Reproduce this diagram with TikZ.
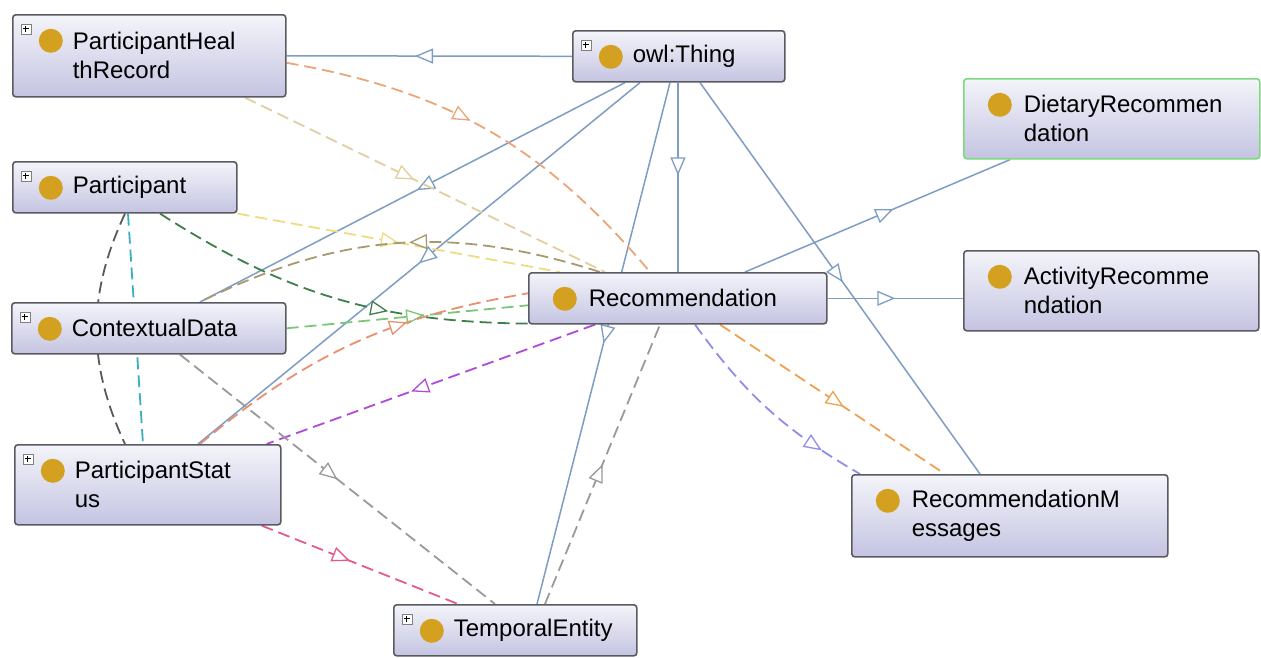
\documentclass[tikz,border=0pt]{standalone}
\usepackage{fontspec}
\setmainfont{Liberation Sans}
\usetikzlibrary{arrows.meta}
\usetikzlibrary{decorations.markings}
\definecolor{boxtop}{HTML}{F4F4FA}
\definecolor{boxbot}{HTML}{C4C4E2}
\definecolor{boxedge}{HTML}{5A5A62}
\definecolor{bulb}{HTML}{D4A020}
\definecolor{selgreen}{HTML}{7ED87E}
\definecolor{isablue}{HTML}{7D9DC2}
\definecolor{relorange}{HTML}{EBA578}
\definecolor{reltan}{HTML}{E2CFA0}
\definecolor{relyellow}{HTML}{F0DC80}
\definecolor{relolive}{HTML}{A89A70}
\definecolor{reldkgreen}{HTML}{3F7F4A}
\definecolor{relgreen}{HTML}{78C878}
\definecolor{relred}{HTML}{E89070}
\definecolor{relpurple}{HTML}{B048D8}
\definecolor{relgray}{HTML}{9A9A9A}
\definecolor{relpink}{HTML}{E45A90}
\definecolor{relamber}{HTML}{F0A050}
\definecolor{rellilac}{HTML}{8E8EEA}
\definecolor{reldark}{HTML}{5A5A5A}
\definecolor{relteal}{HTML}{3AAFBF}
\pgfdeclarelayer{edges}
\pgfsetlayers{edges,main}
\tikzset{
  classbox/.style={draw=boxedge, line width=1.6pt, rounded corners=3pt,
    top color=boxtop, bottom color=boxbot, anchor=north west,
    minimum height=51pt, inner sep=0pt, align=left,
    font=\fontsize{24}{29}\selectfont},
  leaf/.style={classbox, path picture={
    \fill[bulb] ([xshift=36pt,yshift=-26pt]path picture bounding box.north west) circle (12pt);}},
  folded/.style={classbox, path picture={
    \fill[bulb] ([xshift=38pt,yshift=-26pt]path picture bounding box.north west) circle (12pt);
    \draw[gray, fill=white, line width=0.6pt, sharp corners] ([xshift=8pt,yshift=-9pt]path picture bounding box.north west) rectangle ++(10pt,-10pt);
    \draw[black, line width=0.8pt, sharp corners] ([xshift=10pt,yshift=-14pt]path picture bounding box.north west) -- ++(6pt,0pt)
      ([xshift=13pt,yshift=-11pt]path picture bounding box.north west) -- ++(0pt,-6pt);}},
  isa/.style={isablue, line width=1.5pt, postaction={decorate},
    decoration={markings, mark=at position #1 with {\arrow[line width=1.3pt]{Triangle[length=18pt,width=15pt,fill=white]}}}},
  isa/.default=0.5,
  rel/.style 2 args={#1, line width=1.8pt, dash pattern=on 12pt off 6pt, postaction={decorate},
    decoration={markings, mark=at position #2 with {\arrow[line width=1.3pt]{Triangle[length=18pt,width=15pt,fill=white]}}}}
}

\begin{document}
\begin{tikzpicture}[x=1pt,y=-1pt]
    \useasboundingbox (0,0) rectangle (1261,657);
    % Classes
    \node[folded, minimum width=273pt, minimum height=82pt, text width=153pt] (phr) at (12,14) {ParticipantHeal\\thRecord};
    \node[folded, minimum width=224pt, text width=104pt] (part) at (12,161) {Participant};
    \node[folded, minimum width=274pt, text width=154pt] (ctx) at (11,302) {ContextualData};
    \node[folded, minimum width=266pt, minimum height=80pt, text width=146pt] (pstat) at (14,444) {ParticipantStat\\us};
    \node[folded, minimum width=243pt, text width=123pt] (temp) at (393,604) {TemporalEntity};
    \node[folded, minimum width=212pt, text width=92pt] (thing) at (572,30) {owl:Thing};
    \node[leaf, minimum width=298pt, text width=178pt] (rec) at (528,272) {Recommendation};
    \node[leaf, draw=selgreen, minimum width=296pt, minimum height=80pt, text width=176pt] (diet) at (963,78) {DietaryRecommen\\dation};
    \node[leaf, minimum width=295pt, minimum height=80pt, text width=175pt] (act) at (963,250) {ActivityRecomme\\ndation};
    \node[leaf, minimum width=316pt, minimum height=82pt, text width=196pt] (msg) at (851,474) {RecommendationM\\essages};
    \begin{pgfonlayer}{edges}
    \fill[white] (0,0) rectangle (1261,657);
    % Subclass links
    \draw[isa=0.55] (thing.west) to (phr.east);
    \draw[isa=0.49] ([xshift=53pt]thing.south west) to ([xshift=189pt]ctx.north west);
    \draw[isa=0.50] ([xshift=68pt]thing.south west) to ([xshift=184pt]pstat.north west);
    \draw[isa=0.49] ([xshift=106pt]thing.south west) to ([xshift=150pt]rec.north west);
    \draw[isa=0.5] ([xshift=98pt]thing.south west) to ([xshift=144pt]temp.north west);
    \draw[isa=0.51] ([xshift=128pt]thing.south west) to ([xshift=129pt]msg.north west);
    \draw[isa=0.5] (rec.east) to (rec.east -| act.west);
    \draw[isa=0.56] ([xshift=217pt]rec.north west) to ([xshift=47pt]diet.south west);
    % Property links
    \draw[rel={relorange}{0.45}] ([yshift=-7pt]phr.east) to[bend left=20] ([xshift=122pt]rec.north west);
    \draw[rel={reltan}{0.47}] ([xshift=233pt]phr.south west) to ([xshift=77pt]rec.north west);
    \draw[rel={relyellow}{0.5}] (part.south east) to ([xshift=32pt]rec.north west);
    \draw[rel={relolive}{0.47}] ([xshift=72pt]rec.north west) to[bend right=22] ([xshift=189pt]ctx.north west);
    \draw[rel={reldkgreen}{0.64}] ([xshift=148pt]part.south west) to[bend right=16] ([yshift=1pt]rec.south west);
    \draw[rel={relgreen}{0.57}] (ctx.east) to ([yshift=-7pt]rec.west);
    \draw[rel={relred}{0.66}] ([xshift=186pt]pstat.north west) to[bend left=15] ([yshift=5pt]rec.west);
    \draw[rel={relpurple}{0.56}] ([xshift=67pt]rec.south west) to ([xshift=-15pt]pstat.north east);
    \draw[rel={relgray}{0.5}] ([xshift=169pt]ctx.south west) to ([xshift=102pt]temp.north west);
    \draw[rel={relpink}{0.45}] ([xshift=-20pt]pstat.south east) to ([xshift=65pt]temp.north west);
    \draw[rel={relgray}{0.5}] ([xshift=152pt]temp.north west) to ([xshift=132pt]rec.south west);
    \draw[rel={relamber}{0.55}] ([xshift=192pt]rec.south west) to ([xshift=94pt]msg.north west);
    \draw[rel={rellilac}{0.8}] ([xshift=167pt]rec.south west) to[bend right=12] ([xshift=9pt]msg.north west);
    \draw[rel={reldark}{0.5}] ([xshift=113pt]part.south west) to[bend right=25] ([xshift=111pt]pstat.north west);
    \draw[rel={relteal}{0.5}] ([xshift=116pt]part.south west) to ([xshift=129pt]pstat.north west);
    \end{pgfonlayer}
\end{tikzpicture}
\end{document}
